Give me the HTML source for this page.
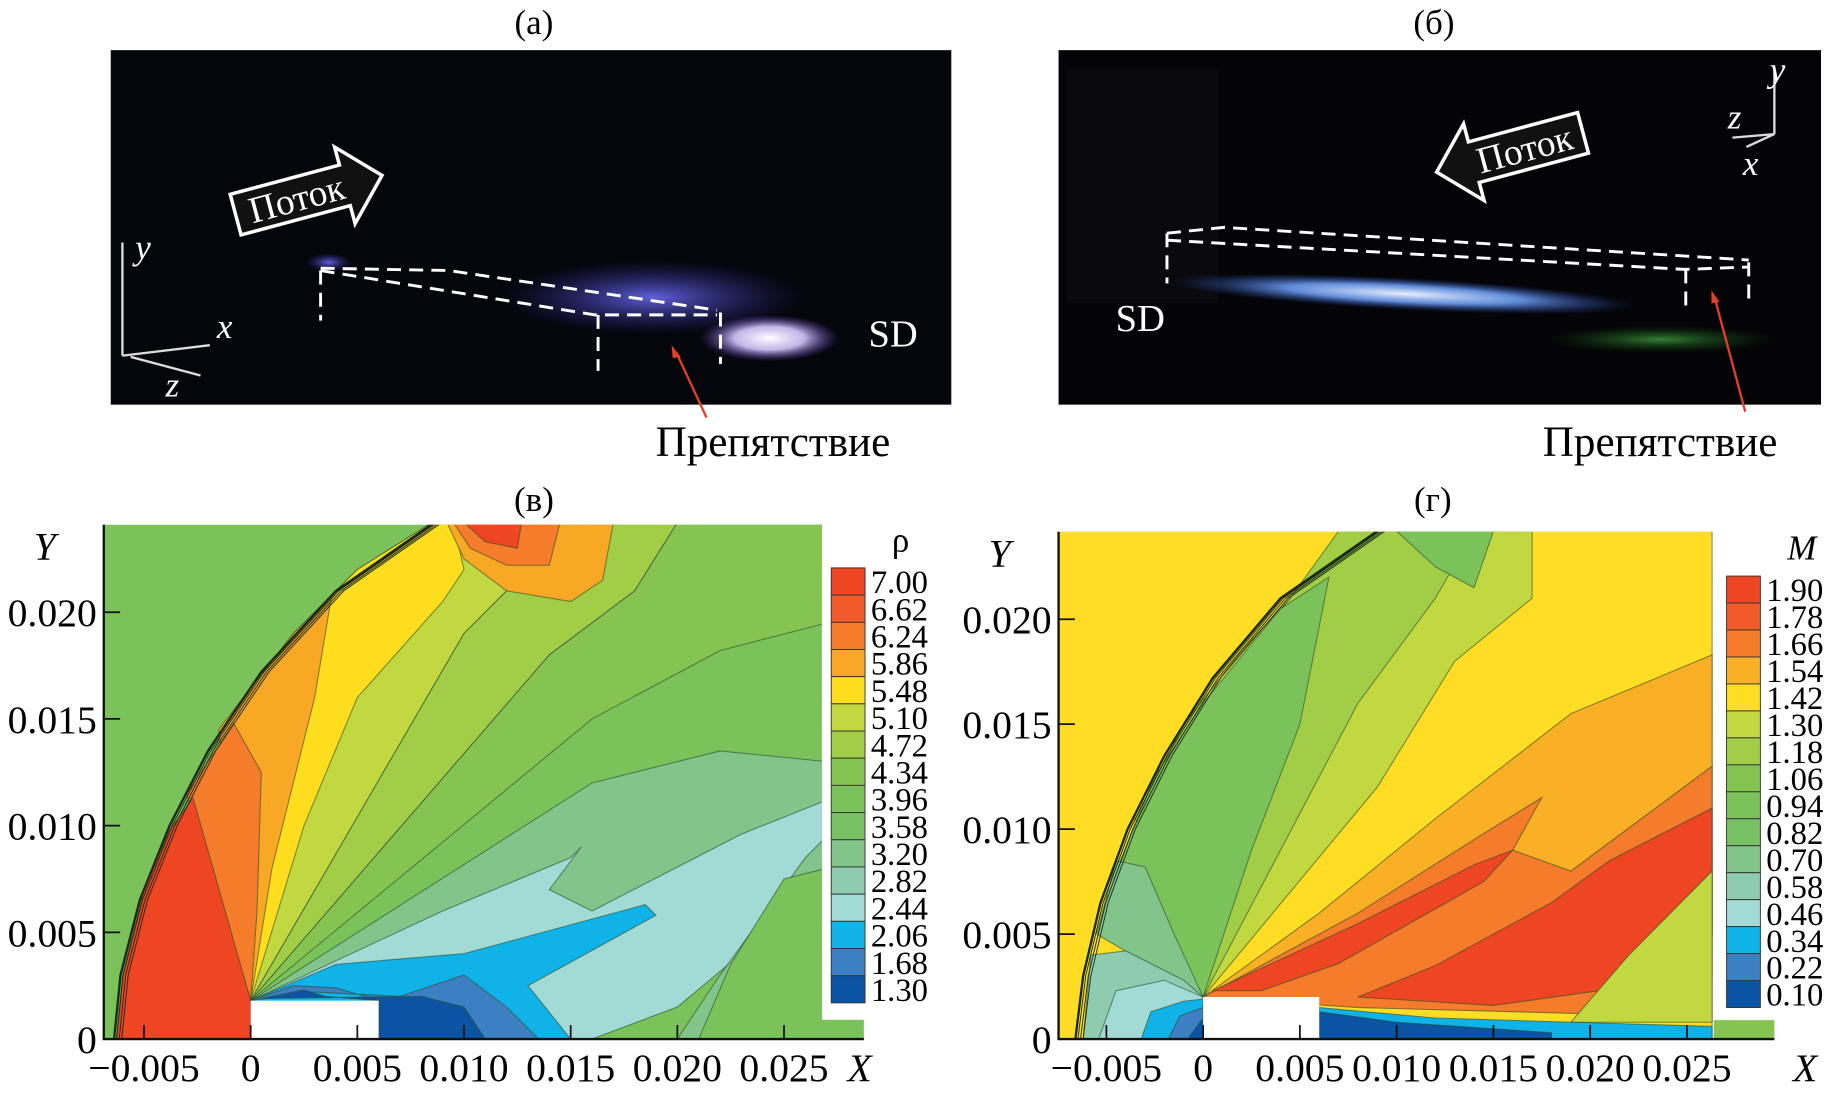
<!DOCTYPE html>
<html><head><meta charset="utf-8"><style>
html,body{margin:0;padding:0;background:#fff;}
svg{display:block;font-family:"Liberation Serif","DejaVu Serif",serif;}
</style></head><body>
<svg id="fig" width="1828" height="1095" viewBox="0 0 1568 939" preserveAspectRatio="none" xmlns="http://www.w3.org/2000/svg">
<defs>
<radialGradient id="gBlue" cx="50%" cy="50%" r="50%"><stop offset="0" stop-color="#6a6af0" stop-opacity="0.9"/><stop offset="1" stop-color="#2a2a90" stop-opacity="0"/></radialGradient>
<radialGradient id="gWhite" cx="50%" cy="50%" r="50%"><stop offset="0" stop-color="#ffffff"/><stop offset="0.5" stop-color="#d8c8ff" stop-opacity="0.9"/><stop offset="1" stop-color="#6040c0" stop-opacity="0"/></radialGradient>
<radialGradient id="gLine" cx="50%" cy="50%" r="50%"><stop offset="0" stop-color="#e8f0ff"/><stop offset="0.5" stop-color="#6a9af0" stop-opacity="0.9"/><stop offset="1" stop-color="#2040a0" stop-opacity="0"/></radialGradient>
<radialGradient id="gGreen" cx="50%" cy="50%" r="50%"><stop offset="0" stop-color="#40a040" stop-opacity="0.8"/><stop offset="1" stop-color="#104010" stop-opacity="0"/></radialGradient>
</defs>

<!-- Panel a -->
<text x="458" y="29" font-size="30" text-anchor="middle">(а)</text>
<g>
<rect x="95" y="43" width="721" height="304" fill="#05050c"/>
<ellipse cx="560" cy="255" rx="130" ry="32" fill="url(#gBlue)"/>
<ellipse cx="660" cy="290" rx="60" ry="20" fill="url(#gWhite)"/>
<ellipse cx="282" cy="225" rx="20" ry="8" fill="url(#gBlue)"/>
<g stroke="#fff" stroke-width="2.5" stroke-dasharray="12,7" fill="none">
<polyline points="275,230 385,232 615,266"/>
<polyline points="275,232 510,270 615,270"/>
<line x1="275" y1="232" x2="275" y2="275"/><line x1="513" y1="270" x2="513" y2="318"/><line x1="618" y1="268" x2="618" y2="312"/>
</g>
<g transform="translate(262,168) rotate(-15)">
<polygon points="-62,-18 35,-18 35,-34 68,0 35,34 35,18 -62,18" fill="#111" stroke="#fff" stroke-width="3"/>
<text x="-8" y="11" font-size="32" fill="#fff" text-anchor="middle">Поток</text>
</g>
<g stroke="#ddd" stroke-width="2"><line x1="105" y1="208" x2="105" y2="305"/><line x1="105" y1="305" x2="180" y2="296"/><line x1="112" y1="306" x2="172" y2="322"/></g>
<text x="116" y="222" font-size="30" font-style="italic" fill="#fff">y</text>
<text x="186" y="290" font-size="30" font-style="italic" fill="#fff">x</text>
<text x="142" y="340" font-size="30" font-style="italic" fill="#fff">z</text>
<text x="745" y="297" font-size="33" fill="#fff">SD</text>
</g>
<line x1="606" y1="358" x2="580" y2="302" stroke="#e0402a" stroke-width="2"/>
<polygon points="576,296 584,306 577,307" fill="#e0402a"/>
<text x="663" y="391" font-size="37" text-anchor="middle">Препятствие</text>

<!-- Panel b -->
<text x="1230" y="29" font-size="30" text-anchor="middle">(б)</text>
<g>
<rect x="908" y="43" width="654" height="304" fill="#040406"/>
<rect x="915" y="60" width="130" height="200" fill="#0c0c10" opacity="0.8"/>
<ellipse cx="1205" cy="252" rx="200" ry="14" fill="url(#gLine)" transform="rotate(3 1205 252)"/>
<ellipse cx="1425" cy="291" rx="100" ry="12" fill="url(#gGreen)"/>
<g stroke="#fff" stroke-width="2.5" stroke-dasharray="12,7" fill="none">
<polyline points="1001,200 1050,195 1500,223"/>
<polyline points="1001,206 1445,231 1500,229"/>
<line x1="1001" y1="200" x2="1001" y2="243"/><line x1="1446" y1="231" x2="1446" y2="266"/><line x1="1500" y1="225" x2="1500" y2="260"/>
</g>
<g transform="translate(1298,130) rotate(-15)">
<polygon points="62,-18 -35,-18 -35,-34 -68,0 -35,34 -35,18 62,18" fill="#111" stroke="#fff" stroke-width="3"/>
<text x="10" y="11" font-size="32" fill="#fff" text-anchor="middle">Поток</text>
</g>
<g stroke="#ddd" stroke-width="2"><line x1="1522" y1="58" x2="1522" y2="115"/><line x1="1522" y1="115" x2="1486" y2="118"/><line x1="1522" y1="115" x2="1498" y2="126"/></g>
<text x="1518" y="70" font-size="30" font-style="italic" fill="#fff">y</text>
<text x="1482" y="110" font-size="30" font-style="italic" fill="#fff">z</text>
<text x="1495" y="150" font-size="30" font-style="italic" fill="#fff">x</text>
<text x="957" y="284" font-size="33" fill="#fff">SD</text>
</g>
<line x1="1497" y1="353" x2="1471" y2="256" stroke="#e0402a" stroke-width="2"/>
<polygon points="1468,249 1475,259 1468,260" fill="#e0402a"/>
<text x="1424" y="391" font-size="37" text-anchor="middle">Препятствие</text>

<text x="458" y="438" font-size="30" text-anchor="middle">(в)</text>
<text x="1229" y="438" font-size="30" text-anchor="middle">(г)</text>
<g id="plots"></g>
</svg>
<script>
// ---- data ----
const xTickVals = [-0.005, 0, 0.005, 0.010, 0.015, 0.020, 0.025];
const xTickLabels = ["\u22120.005", "0", "0.005", "0.010", "0.015", "0.020", "0.025"];
const yTickVals = [0, 0.005, 0.010, 0.015, 0.020];
const yTickLabels = ["0", "0.005", "0.010", "0.015", "0.020"];
const rhoLevels = ["7.00","6.62","6.24","5.86","5.48","5.10","4.72","4.34","3.96","3.58","3.20","2.82","2.44","2.06","1.68","1.30"];
const rhoColors = ["#ee4623","#f15a29","#f47c2a","#f9a825","#fedd1f","#c2d840","#a2cd47","#86c452","#7cc25a","#78c165","#82c48a","#8ecbaf","#a2dad6","#10b3e8","#3d7fc3","#0b53a3"];
const machLevels = ["1.90","1.78","1.66","1.54","1.42","1.30","1.18","1.06","0.94","0.82","0.70","0.58","0.46","0.34","0.22","0.10"];
const machColors = ["#ee4623","#f15a29","#f47c2a","#f9b024","#fedd24","#c2d840","#a2cd47","#86c452","#7cc25a","#78c165","#82c48a","#8ecbaf","#a2dad6","#10b3e8","#3d7fc3","#0b53a3"];
// region shapes in mm (x, y)
const rhoRegions = [
 {c:"#7bc25a", p:[[-7,0],[-7,24.2],[27,24.2],[27,0]]},
 {c:"#c2d840", p:[[0,1.8],[-3,11],[-1,15],[2,19],[5,22],[8.5,24.2],[14,24.2],[12,21],[10,19]]},
 {c:"#a2cd47", p:[[0,1.8],[10,19],[12,21],[15,24.2],[20,24.2],[18,21],[14,18]]},
 {c:"#86c452", p:[[0,1.8],[14,18],[18,21],[20,24.2],[27,24.2],[27,19.5],[22,18.2],[16,15]]},
 {c:"#fedd1f", p:[[0,1.8],[-1,15],[2,19],[5,22],[8.5,24.2],[9.5,24.2],[10,22],[9,20.5],[5,16],[2.5,10]]},
 {c:"#f9a825", p:[[0,1.8],[-1.5,14.5],[-0.5,15.8],[2,19],[3.8,20.8],[3,16],[1,8]]},
 {c:"#f47c2a", p:[[0,1.8],[-3,11.5],[-0.8,14.8],[0.5,12.5],[0.3,6]]},
 {c:"#ee4623", p:[[-6.3,0],[-6,3],[-5,7],[-3.8,9.8],[-2.7,11.3],[0,1.8],[0,0]]},
 {c:"#f9a825", p:[[9.2,24.2],[10,22.5],[12,21],[15,20.5],[16.5,21.5],[17,24.2]]},
 {c:"#f47c2a", p:[[9.5,24.2],[10.3,23],[12,22.2],[14,22.2],[14.5,24.2]]},
 {c:"#ee4623", p:[[10,24.2],[11,23.3],[12.5,23],[12.7,24.2]]},
 {c:"#82c48a", p:[[0,1.8],[16,12],[22,13.5],[27,13],[27,9],[23,7],[14,4.5]]},
 {c:"#a2dad6", p:[[0,1.8],[9,6],[15,8.5],[15.5,9],[14,7],[16,6],[23,9.6],[27,11.2],[27,9],[23,4],[20,1.5],[16,0],[5,0]]},
 {c:"#82c48a", p:[[20,0],[22,3],[26,8.5],[27,9.5],[27,0]]},
 {c:"#7cc25a", p:[[21,0],[22.5,3.5],[25,7.5],[27,8],[27,0]]},
 {c:"#10b3e8", p:[[0,1.8],[4,3.5],[10,4],[18.5,6.3],[19,5.8],[13,2.5],[15,0],[6,0]]},
 {c:"#3d7fc3", p:[[0,1.8],[2,2.5],[4,2.4],[6,1.8],[6,0],[13.5,0],[12,1.5],[10,3],[7,2],[3,2.2]]},
 {c:"#0b53a3", p:[[0.5,1.9],[2.5,2.3],[3.5,2],[6,1.8],[6,0],[11,0],[10,1.5],[8,2]]},
 {c:"#ffffff", p:[[0,0],[0,1.8],[6,1.8],[6,0]]}
];
const machRegions = [
 {c:"#fedd24", p:[[-7.5,0],[-7.5,24.2],[26.3,24.2],[26.3,0]]},
 {c:"#c2d840", p:[[0,2],[-3.5,10.5],[-1,15],[2,18.5],[5,21.5],[8.5,24.2],[17,24.2],[17,21],[13,18],[9,12]]},
 {c:"#a2cd47", p:[[0,2],[-2,13],[1,17],[4.5,21],[7,24.2],[14,24.2],[12,21],[8,16]]},
 {c:"#7cc25a", p:[[0,2],[-4.5,8],[-2.5,12.5],[0,16],[4,20.5],[6.5,22],[5,15],[2.5,9]]},
 {c:"#7cc25a", p:[[10,24.2],[12,22.5],[14,21.5],[15,24.2]]},
 {c:"#82c48a", p:[[0,2],[-5.5,5],[-4.5,8.5],[-3,8.2],[-1.5,5]]},
 {c:"#8ecbaf", p:[[-6.2,0],[-5.8,4],[-4,4.2],[-1,2.8],[0,2],[0,0]]},
 {c:"#a2dad6", p:[[-5.4,0],[-4.5,2.3],[-2,2.8],[0,2],[0,0]]},
 {c:"#10b3e8", p:[[-3.2,0],[-2.7,1.3],[-1,1.8],[0,1.9],[0,0]]},
 {c:"#3d7fc3", p:[[-1.8,0],[-1.2,1.1],[0,1.5],[0,0]]},
 {c:"#0b53a3", p:[[-0.8,0],[0,1],[0,0]]},
 {c:"#f9b024", p:[[0,2],[6,6],[12,10.5],[19,15.5],[26.3,18.3],[26.3,5],[20,2],[10,2.2]]},
 {c:"#f47c2a", p:[[0,2],[8,6],[14,9.5],[17.5,11.5],[16,9],[19,8],[26.3,13],[26.3,3],[20,1.2],[8,1.5]]},
 {c:"#ee4623", p:[[0.5,2.3],[8,5.5],[14,8.3],[16,9],[14.5,7.5],[7,3.6],[3,2.3]]},
 {c:"#ee4623", p:[[8,2],[12,3.5],[18,6.5],[21,8.5],[26.3,11],[26.3,5],[22,2.5],[15,1.6]]},
 {c:"#c2d840", p:[[19,0.8],[22,4],[26.3,8],[26.3,0.8]]},
 {c:"#10b3e8", p:[[6,0],[6,1.5],[12,1],[26.3,0.6],[26.3,0]]},
 {c:"#0b53a3", p:[[6,0],[6,1.3],[10,0.8],[18,0.3],[18,0]]},
 {c:"#ffffff", p:[[0,0],[0,2],[6,2],[6,0]]}
];
const rhoShock = [[-6.4,0],[-6.1,3],[-5.2,6.5],[-3.8,10],[-2,13.5],[0.5,17.2],[4,21],[8.6,24.2]];
const machShock = [[-6.6,0],[-6.2,3],[-5.3,6.5],[-3.9,10],[-2,13.5],[0.5,17.2],[4,21],[9,24.2]];

const NS = "http://www.w3.org/2000/svg";
const root = document.getElementById("plots");
function mk(tag, attrs, parent) {
  const e = document.createElementNS(NS, tag);
  for (const k in attrs) e.setAttribute(k, attrs[k]);
  (parent || root).appendChild(e);
  return e;
}
function makePlot(cfg) {
  const g = mk("g", {});
  
  
  const sx = v => cfg.x0 + v * cfg.kx; // v in mm
  const sy = v => cfg.y0 - v * cfg.ky;
  const clipId = cfg.name + "-clip";
  const cp = mk("clipPath", {id: clipId}, g);
  mk("rect", {x: cfg.left, y: cfg.top, width: cfg.right - cfg.left, height: cfg.y0 - cfg.top}, cp);
  const field = mk("g", {"clip-path": "url(#" + clipId + ")"}, g);
  
  
  cfg.regions.forEach(r => {
    const poly = mk("polygon", {points: r.p.map(q => sx(q[0]) + "," + sy(q[1])).join(" "), fill: r.c, stroke: r.c === "#ffffff" ? "none" : "#2c4a2c", "stroke-width": r.c === "#ffffff" ? 0 : 0.9, "stroke-opacity": 0.6}, field);
    
    
  });
  for (let i = 0; i < 4; i++) {
    const sh = mk("polyline", {points: cfg.shock.map(q => (sx(q[0]) + i * 2.2) + "," + sy(q[1])).join(" "), fill: "none", stroke: "#1a2a1a", "stroke-width": i === 0 ? 2 : 0.8}, field);
    
    
  }
  const strip = mk("rect", {x: cfg.right, y: sy(0.9), width: cfg.stripW, height: sy(0) - sy(0.9), fill: cfg.stripColor}, g);
  
  
  const ax = mk("polyline", {points: cfg.left + "," + cfg.top + " " + cfg.left + "," + cfg.y0 + " " + (cfg.right + cfg.stripW) + "," + cfg.y0, fill: "none", stroke: "#111", "stroke-width": 2}, g);
  
  
  xTickVals.forEach((v, i) => {
    const X = sx(v * 1000);
    mk("line", {x1: X, y1: cfg.y0, x2: X, y2: cfg.y0 - 12, stroke: "#111", "stroke-width": 1.5}, g);
    const t = mk("text", {x: X, y: cfg.y0 + 36, "font-size": 34, "text-anchor": "middle"}, g);
    t.textContent = xTickLabels[i];
    
    
  });
  yTickVals.forEach((v, i) => {
    const Y = sy(v * 1000);
    mk("line", {x1: cfg.left, y1: Y, x2: cfg.left + 14, y2: Y, stroke: "#111", "stroke-width": 1.5}, g);
    const t = mk("text", {x: cfg.left - 6, y: Y + 12, "font-size": 34, "text-anchor": "end"}, g);
    t.textContent = yTickLabels[i];
    
    
  });
  const yt = mk("text", {x: cfg.left - 60, y: cfg.top + 30, "font-size": 34, "font-style": "italic"}, g);
  yt.textContent = "Y";
  
  
  const xt = mk("text", {x: cfg.xTitleX, y: cfg.y0 + 36, "font-size": 34, "font-style": "italic"}, g);
  xt.textContent = "X";
  
  
  const n = cfg.levels.length, bh = (cfg.cbBot - cfg.cbTop) / n;
  cfg.colors.forEach((c, i) => {
    const r = mk("rect", {x: cfg.cbX, y: cfg.cbTop + i * bh, width: 29, height: bh, fill: c, stroke: "#333", "stroke-width": 0.8}, g);
    
    
  });
  cfg.levels.forEach((l, i) => {
    const t = mk("text", {x: cfg.cbX + 34, y: cfg.cbTop + (i + 0.5) * bh + 10, "font-size": 28}, g);
    t.textContent = l;
    
    
  });
  const ct = mk("text", {x: cfg.cbX + 52, y: cfg.cbTop - 14, "font-size": 30, "font-style": cfg.titleItalic ? "italic" : "normal"}, g);
  ct.textContent = cfg.cbTitle;
  
  
}
makePlot({name: "density-contour-plot", x0: 215, kx: 18.3, y0: 891, ky: 18.3, left: 89, right: 705, top: 450,
  regions: rhoRegions, shock: rhoShock, stripW: 36, stripColor: "#7cc25a", xTitleX: 727,
  levels: rhoLevels, colors: rhoColors, cbX: 713, cbTop: 487, cbBot: 860, cbTitle: "ρ", titleItalic: false});
makePlot({name: "mach-contour-plot", x0: 1032, kx: 16.6, y0: 891, ky: 18.0, left: 908, right: 1470, top: 456,
  regions: machRegions, shock: machShock, stripW: 52, stripColor: "#86c452", xTitleX: 1538,
  levels: machLevels, colors: machColors, cbX: 1481, cbTop: 494, cbBot: 864, cbTitle: "M", titleItalic: true});
</script>
</body></html>
